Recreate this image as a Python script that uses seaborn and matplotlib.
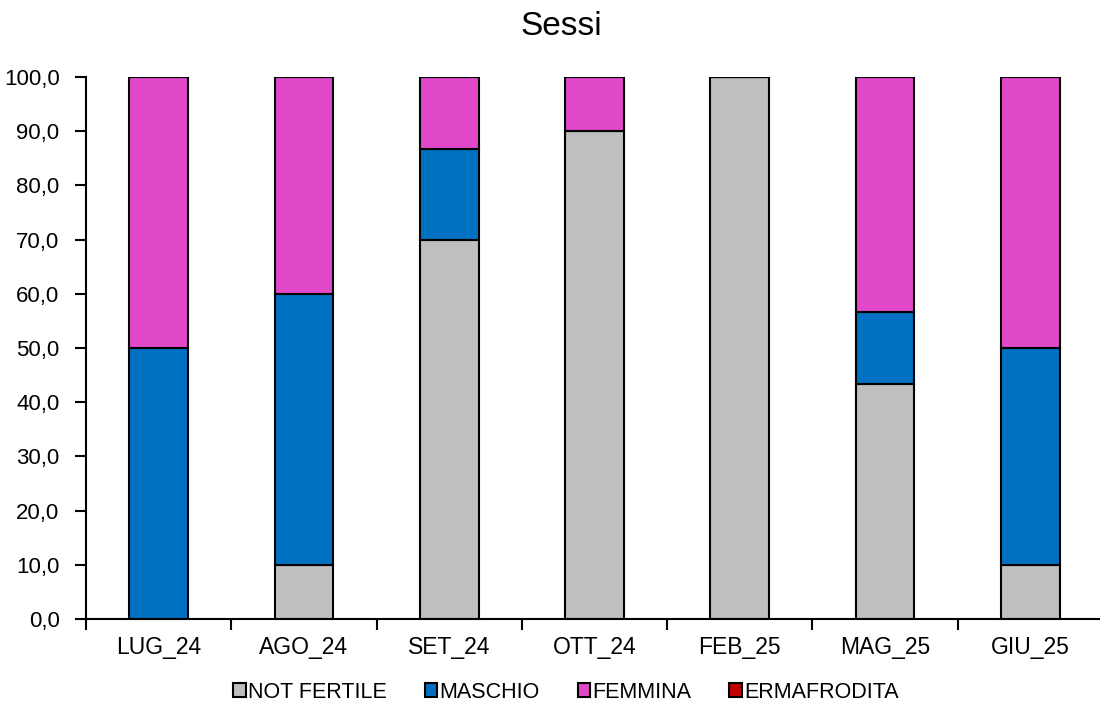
import numpy as np
import matplotlib
matplotlib.use("Agg")
import matplotlib.pyplot as plt
import seaborn as sns
from matplotlib.ticker import FuncFormatter, FixedLocator
from matplotlib.patches import Patch

months = ["LUG_24", "AGO_24", "SET_24", "OTT_24", "FEB_25", "MAG_25", "GIU_25"]
not_fertile = [0, 10, 70, 90, 100, 43.3, 10]
maschio = [50, 50, 16.7, 0, 0, 13.4, 40]
femmina = [50, 40, 13.3, 10, 0, 43.3, 50]
ermafrodita = [0, 0, 0, 0, 0, 0, 0]

series = [
    ("NOT FERTILE", not_fertile, "#BFBFBF"),
    ("MASCHIO", maschio, "#0070C0"),
    ("FEMMINA", femmina, "#E048C8"),
    ("ERMAFRODITA", ermafrodita, "#C00000"),
]

sns.set_style("white")
plt.rcParams['font.family'] = ['Liberation Sans', 'DejaVu Sans']
plt.rcParams['text.color'] = 'black'
plt.rcParams['xtick.color'] = 'black'
plt.rcParams['ytick.color'] = 'black'

fig = plt.figure(figsize=(11, 7.03), dpi=100)
ax = fig.add_axes([86 / 1100, 84 / 703, 1017 / 1100, 542 / 703])

bottom = np.zeros(len(months))
for name, vals, col in series:
    sns.barplot(x=months, y=vals, bottom=bottom, color=col, saturation=1,
                edgecolor="black", linewidth=1.5, width=0.405, ax=ax, label=name)
    bottom = bottom + np.array(vals)

handles = [Patch(facecolor=c, edgecolor="black", linewidth=1.5, label=n) for n, _, c in series]

ax.set_ylim(0, 100)
ax.set_xlim(-0.5, 6.5)
ax.set_yticks(np.arange(0, 101, 10))
ax.yaxis.set_major_formatter(FuncFormatter(lambda v, p: f"{v:.1f}".replace(".", ",")))
ax.xaxis.set_minor_locator(FixedLocator(np.arange(-0.5, 7, 1)))
ax.tick_params(axis="x", which="major", length=0, labelsize=16.5, pad=12)
ax.tick_params(axis="x", which="minor", length=8, width=1.5, direction="out", bottom=True)
ax.tick_params(axis="y", length=8, width=1.5, direction="out", labelsize=16, left=True, pad=11)
for s in ["top", "right"]:
    ax.spines[s].set_visible(False)
for s in ["left", "bottom"]:
    ax.spines[s].set_color("black")
    ax.spines[s].set_linewidth(1.5)
ax.set_xlabel("")
ax.set_ylabel("")
ax.set_title("Sessi", fontsize=24, pad=30, x=0.467)

ax.legend(handles=handles, loc="upper center", bbox_to_anchor=(0.472, -0.08), ncol=4,
          frameon=False, fontsize=15.5, handlelength=0.6, handleheight=0.6,
          handletextpad=0.1, columnspacing=1.75)

fig.savefig("out.png", dpi=100)
